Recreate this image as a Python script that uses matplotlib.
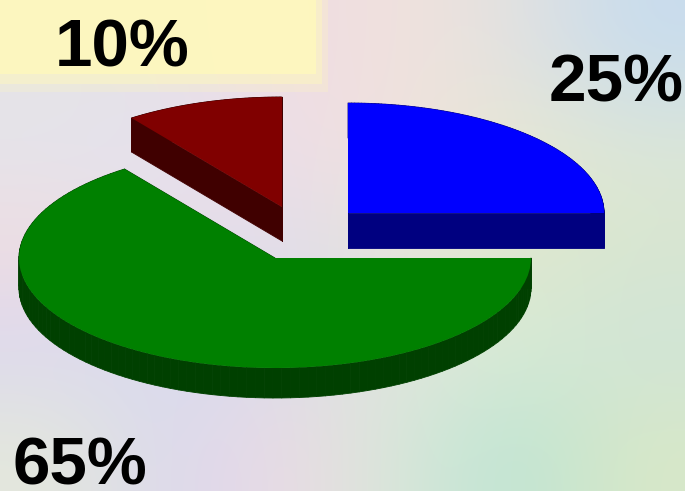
import numpy as np
import matplotlib
matplotlib.use("Agg")
import matplotlib.pyplot as plt
from matplotlib.colors import to_rgb
from matplotlib.collections import PolyCollection
from matplotlib.patches import Rectangle

# --- DATA ---
values = [25, 65, 10]
labels = ["25%", "65%", "10%"]

top_colors = ["#0000FF", "#008000", "#800000"]
side_colors = ["#000080", "#004000", "#400000"]

# pastel backdrop, rows from top to bottom
bg_rows = [
    ["#E6E4E4", "#E8E0E6", "#EEDCE4", "#F2E2DC", "#E2E2E0", "#C8DCEE"],
    ["#E4E4EC", "#E4E2F0", "#F0DDE6", "#EFE2DE", "#E8E8D2", "#DCE6D8"],
    ["#F0DDE0", "#E8DDE6", "#E0DCEC", "#E6E6DA", "#DEE8CC", "#D8E6D0"],
    ["#DCD8F0", "#D8DCEE", "#DCDCEA", "#E2E6DC", "#D8ECD4", "#D0E4D8"],
    ["#E4E8DC", "#DAD8EE", "#ECDAE4", "#D8E8D8", "#BCE4D4", "#D8E8C8"],
]

# --- LAYOUT (pixels of the 685x491 picture) ---
W, H = 685, 491
RX, RY = 256, 110
centers_px = [(348, 213), (275, 258), (282, 207)]
depths_px = [35, 30, 34]
label_px = [(549, 101), (13, 484), (55, 66)]


def px(x, y):
    return x / RX, -y / RY


fig = plt.figure(figsize=(W / 100, H / 100), dpi=100)
ax = fig.add_axes([0, 0, 1, 1])

# pie first, it sets its own aspect so that gets reset below
wedges, _ = ax.pie(values, startangle=90, counterclock=False, radius=1, colors=top_colors,
                   wedgeprops=dict(linewidth=0, zorder=3))
ax.set_aspect("auto")
ax.axis("off")

# backdrop
bg = np.array([[to_rgb(c) for c in row] for row in bg_rows])
ax.imshow(bg, extent=(0, W / RX, -H / RY, 0), aspect="auto", interpolation="bicubic", zorder=0)
ax.set_xlim(0, W / RX)
ax.set_ylim(-H / RY, 0)

# yellow box behind the 10% label, soft edge from a few nested layers
for right, bottom, alpha in [(328, 92, 0.25), (322, 84, 0.45), (316, 74, 0.8)]:
    x1, y1 = px(right, bottom)
    ax.add_patch(Rectangle((0, y1), x1, -y1, color="#FFF9BC", alpha=alpha, lw=0, zorder=1))

# side walls: sweep the slice outline downwards
for wedge, c_px, depth, side in zip(wedges, centers_px, depths_px, side_colors):
    cx, cy = px(*c_px)
    wedge.set_center((cx, cy))
    t = np.radians(np.linspace(wedge.theta1, wedge.theta2, 120))
    xs = np.concatenate([[cx], cx + np.cos(t), [cx]])
    ys = np.concatenate([[cy], cy + np.sin(t), [cy]])
    d = depth / RY
    quads = [[(xs[i], ys[i]), (xs[i + 1], ys[i + 1]), (xs[i + 1], ys[i + 1] - d), (xs[i], ys[i] - d)]
             for i in range(len(xs) - 1)]
    ax.add_collection(PolyCollection(quads, facecolors=side, edgecolors=side, linewidths=0.6, zorder=2))

for text, pos in zip(labels, label_px):
    x, y = px(*pos)
    ax.text(x, y, text, family="Liberation Sans", fontweight="bold", fontsize=48.5, color="black",
            ha="left", va="baseline", zorder=5)

fig.savefig("out.png", dpi=100)
